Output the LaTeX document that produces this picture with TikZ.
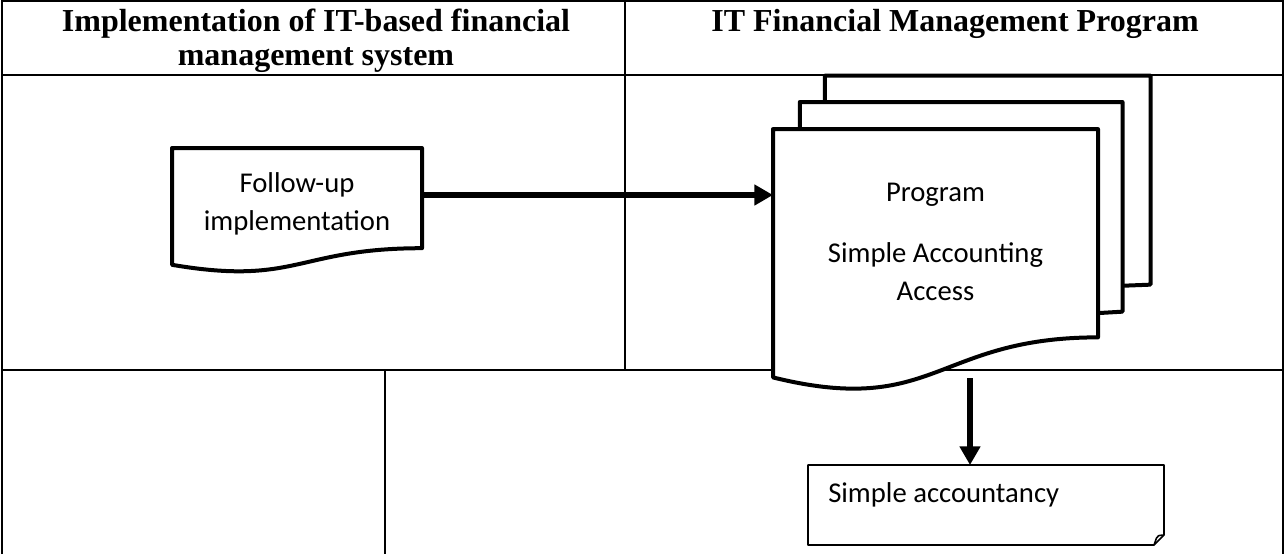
\documentclass[tikz,border=0pt]{standalone}
\usepackage{fontspec}
\setmainfont{Carlito}
\newfontfamily\hdrfont{Liberation Serif}
\usetikzlibrary{arrows.meta,calc}
\begin{document}
\begin{tikzpicture}[x=0.75pt,y=-0.75pt,
  tbl/.style={line width=2.2pt},
  docline/.style={line width=3pt, line join=round},
  arr/.style={line width=4.5pt, -{Triangle[length=14pt,width=15pt]}},
  hdr/.style={font=\hdrfont\bfseries\fontsize{24}{25.5}\selectfont, align=center, inner sep=0pt},
  body/.style={font=\fontsize{21.5}{28.5}\selectfont, align=center, inner sep=0pt},
  area/.style={inner sep=0pt, outer sep=0pt}]
\useasboundingbox (0,0) rectangle (1286,554);

% table grid
\draw[tbl] (2,554) -- (2,1) -- (1283,1) -- (1283,554);
\draw[tbl] (2,75) -- (1283,75);
\draw[tbl] (625,1) -- (625,370);
\draw[tbl] (2,370) -- (1283,370);
\draw[tbl] (385,370) -- (385,554);

% headers (base anchor = baseline of last line)
\node[hdr, anchor=base] (h1) at (316,65) {Implementation of IT-based financial\\management system};
\node[hdr, anchor=base] (h2) at (955,31) {IT Financial Management Program};

% follow-up document
\node[area, minimum width=187.5pt, minimum height=93.75pt] (fu) at (297,210.5) {};
\draw[docline, fill=white] (fu.north west) -- (fu.north east) -- ($(fu.north east)+(0,100.2)$)
  .. controls ($(fu.north)+(0,100.2)$) and ($(fu.north)+(0,138.1)$) .. ($(fu.north west)+(0,116.8)$) -- cycle;
\node[body, anchor=base] (futext) at (297,230) {Follow-up\\implementation};

% multi-document
\node[area, minimum width=283.125pt, minimum height=235.2pt] (md) at (961.75,232.5) {};
\begin{scope}[shift={(md.north west)}, x=283.125pt, y=-235.2pt]
  \draw[docline] (.1376,.0840) -- (.1376,0) -- (1,0) -- (1,.6663) -- (.9259,.6698);
  \draw[docline] (.0709,.1701) -- (.0709,.0840) -- (.9259,.0840) -- (.9259,.7524) -- (.8609,.7570);
  \draw[docline, fill=white] (0,.9621) .. controls (.4305,1.0899) and (.4305,.8344) .. (.8609,.8344)
     -- (.8609,.1701) -- (0,.1701) -- cycle;
\end{scope}
\node[body, anchor=base] (prog) at (935.5,300.5) {Program\\[17pt]Simple Accounting\\Access};

% simple accountancy (folded corner)
\node[area, minimum width=267pt, minimum height=60pt] (acc) at (986,505) {};
\draw[line width=1.2pt, line join=round, fill=white] (acc.north west) -- (acc.north east) -- ($(acc.south east)+(0,-10)$)
  -- ($(acc.south east)+(-10,0)$) -- (acc.south west) -- cycle;
\draw[line width=1.2pt, line join=round] ($(acc.south east)+(-10,0)$) -- ($(acc.south east)+(-7.5,-7)$)
  .. controls ($(acc.south east)+(-6,-9.5)$) .. ($(acc.south east)+(0,-10)$);
\node[body, anchor=base west] (acctext) at (828,502) {Simple accountancy};

% connectors
\coordinate (a1) at ($(fu.north east)+(0,47)$);
\draw[arr] (a1) -- (a1 -| md.west);
\coordinate (d1) at (970,378);
\draw[arr] (d1) -- (d1 |- acc.north);
\end{tikzpicture}
\end{document}
